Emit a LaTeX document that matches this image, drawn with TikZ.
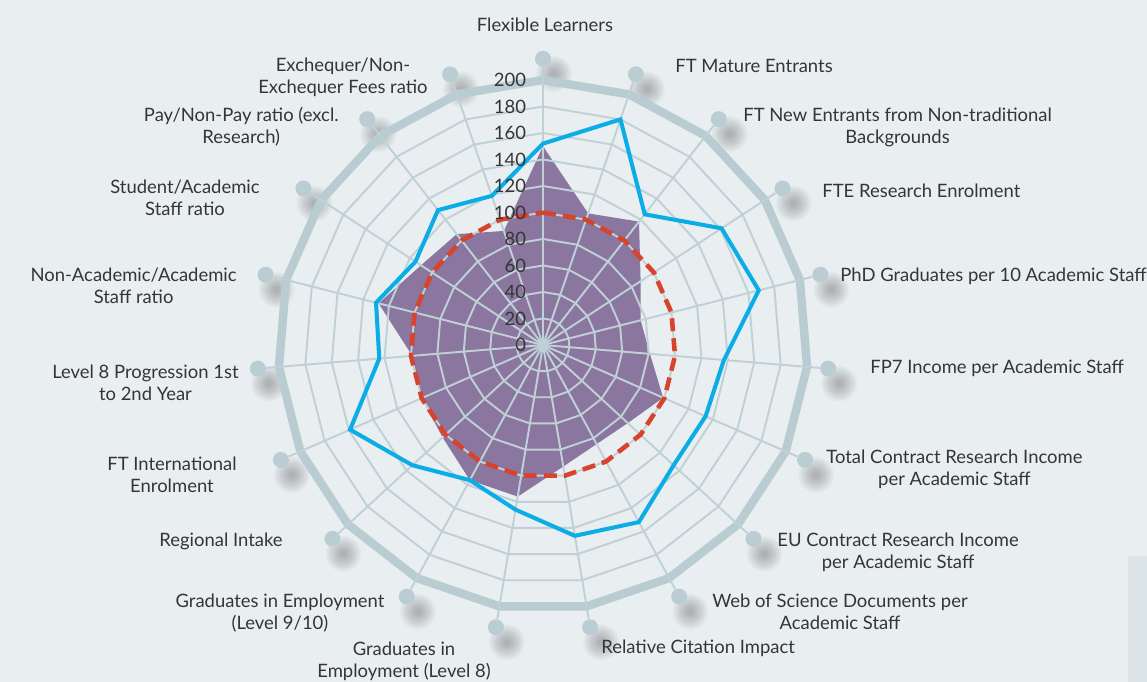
\documentclass[tikz,border=0pt]{standalone}
\usepackage{fontspec}
\setmainfont{Lato}
\usepackage{tikz}

\definecolor{bgcol}{HTML}{E9EEF1}
\definecolor{panelcol}{HTML}{DBE5E8}
\definecolor{gridcol}{HTML}{BFD1D7}
\definecolor{ringcol}{HTML}{B8CCD2}
\definecolor{dotcol}{HTML}{BACDD3}
\definecolor{areacol}{HTML}{8A769E}
\definecolor{bluecol}{HTML}{0BADE6}
\definecolor{redcol}{HTML}{D8432E}
\definecolor{txtcol}{HTML}{353535}

\begin{document}
\begin{tikzpicture}[x=0.02cm, y=-0.02cm,
	axislabel/.style={inner sep=0pt, text=txtcol, align=center, font=\fontsize{10.5pt}{12.5pt}\selectfont},
	ticklabel/.style={inner sep=0pt, text=txtcol, anchor=east, font=\fontsize{10.5pt}{12pt}\selectfont},
	enddot/.style={circle, fill=dotcol, inner sep=0pt, minimum size=0.32cm},
	gridline/.style={draw=gridcol, line width=1.1pt},
	outerring/.style={draw=ringcol, line width=4.8pt, line join=round},
	refline/.style={draw=redcol, line width=2.6pt, dash pattern=on 7.4pt off 4pt, line join=round},
	blueline/.style={draw=bluecol, line width=2.3pt, line join=miter}]
	\fill[bgcol] (0,0) rectangle (1147,682);
	\fill[panelcol] (1128,556) rectangle (1147,682);
	
	\begin{scope}[shift={(543,345)}, x=0.0265cm, y=0.0265cm]
		\coordinate (c) at (0,0);
		
		% shadows under the dots
		\foreach \k in {0,...,18}
			\foreach \s in {0.36,0.33,...,0.06}
				\fill[black, opacity=0.022] ({90-\k*360/19}:216) ++(0.22cm,-0.3cm) circle [radius=\s cm];
		
		% institution values
		\foreach \v [count=\k from 0] in {150,105,118,88,76,81,99,87,85,93,116,116,103,100,99,128,110,106,91}
			\coordinate (p\k) at ({90-\k*360/19}:\v);
		\fill[areacol] (p0) \foreach \k in {1,...,18}{ -- (p\k)} -- cycle;
		
		% rings
		\foreach \r in {20,40,...,180}
			\draw[gridline] (90:\r) \foreach \k in {1,...,18}{ -- ({90-\k*360/19}:\r)} -- cycle;
		\draw[outerring] (90:200) \foreach \k in {1,...,18}{ -- ({90-\k*360/19}:200)} -- cycle;
		
		% spokes
		\foreach \k in {0,...,18}{
			\node[enddot] (d\k) at ({90-\k*360/19}:216) {};
			\draw[gridline] (c) -- (d\k);
		}
		
		% level 100
		\draw[refline] (90:100) \foreach \k in {1,...,18}{ -- ({90-\k*360/19}:100)} -- cycle;
		
		% top values
		\foreach \v [count=\k from 0] in {152,180,125,161,168,137,134,134,152,146,126,116,134,159,124,130,115,129,119}
			\coordinate (b\k) at ({90-\k*360/19}:\v);
		\draw[blueline] (b0) \foreach \k in {1,...,18}{ -- (b\k)} -- cycle;
		
		% scale
		\foreach \v in {0,20,...,200}
			\node[ticklabel] (t\v) at (-12.5,\v) {\v};
	\end{scope}
	
	% axis names
	\node[axislabel] (l0) at (545,25) {Flexible Learners};
	\node[axislabel, anchor=west] (l1) at (675,66) {FT Mature Entrants};
	\node[axislabel, anchor=west] (l2) at (743,127) {FT New Entrants from Non-traditional\\Backgrounds};
	\node[axislabel, anchor=west] (l3) at (822,191) {FTE Research Enrolment};
	\node[axislabel, anchor=west] (l4) at (840,276) {PhD Graduates per 10 Academic Staff};
	\node[axislabel, anchor=west] (l5) at (870,368) {FP7 Income per Academic Staff};
	\node[axislabel, anchor=west] (l6) at (826,469) {Total Contract Research Income\\per Academic Staff};
	\node[axislabel, anchor=west] (l7) at (777,552) {EU Contract Research Income\\per Academic Staff};
	\node[axislabel, anchor=west] (l8) at (712,612) {Web of Science Documents per\\Academic Staff};
	\node[axislabel, anchor=west] (l9) at (601,648) {Relative Citation Impact};
	\node[axislabel] (l10) at (404,661) {Graduates in\\Employment (Level 8)};
	\node[axislabel] (l11) at (280,613) {Graduates in Employment\\(Level 9/10)};
	\node[axislabel, anchor=east] (l12) at (283,541) {Regional Intake};
	\node[axislabel] (l13) at (172,475) {FT International\\Enrolment};
	\node[axislabel, anchor=east] (l14) at (239,383) {Level 8 Progression 1st\\to 2nd Year};
	\node[axislabel, anchor=east] (l15) at (237,286) {Non-Academic/Academic\\Staff ratio};
	\node[axislabel, anchor=east] (l16) at (260,198) {Student/Academic\\Staff ratio};
	\node[axislabel, anchor=east] (l17) at (339,127) {Pay/Non-Pay ratio (excl.\\Research)};
	\node[axislabel, anchor=east] (l18) at (428,77) {Exchequer/Non-\\Exchequer Fees ratio};
\end{tikzpicture}
\end{document}
